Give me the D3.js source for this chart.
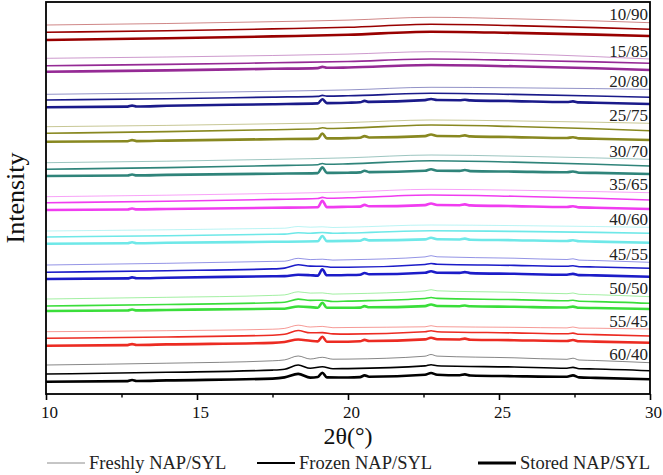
<!DOCTYPE html>
<html><head><meta charset="utf-8">
<script src="https://cdn.jsdelivr.net/npm/d3@7"></script>
<style>body{margin:0;background:#fff} svg{display:block}</style>
</head><body>
<svg id="c" width="663" height="475"></svg>
<script>
// ---- DATA: [2θ (°), intensity (a.u., stacked)] ----
const groupLabels = ["10/90","15/85","20/80","25/75","30/70","35/65","40/60","45/55","50/50","55/45","60/40"];
const xTicks = [10,15,20,25,30];
const xMinorTicks = [12.5,17.5,22.5,27.5];
const legendLabels = ["Freshly NAP/SYL","Frozen NAP/SYL","Stored NAP/SYL"];

const fresh_10_90 = [[10,369],[14,370.5],[17.5,372.3],[20,373.9],[22.75,376.7],[25.5,375.2],[28.2,373.1],[30,371.3]];
const frozen_10_90 = [[10,361.7],[14,363.3],[17.5,365.1],[20,366.7],[22.75,369.7],[25.5,368.4],[28.2,366.4],[30,364.7]];
const stored_10_90 = [[10,354],[14,355.7],[17.5,357.6],[20,359.2],[22.75,362.3],[25.5,361.1],[28.2,359.4],[30,358]];

const fresh_15_85 = [[10,335.7],[14,337],[17.5,338.5],[20,339.9],[22.75,342.3],[25.5,340.3],[28.2,337.4],[30,335]];
const frozen_15_85 = [[10,328.3],[14,329.6],[17.5,331.2],[20,332.5],[22.75,335],[25.5,333.8],[28.2,332.1],[30,330.7]];
const stored_15_85 = [[10,322.3],[14,323.6],[17.5,325.2],[19,325.9],[19.15,327.1],[19.3,326.2],[20,326.5],[22.75,329],[25.5,327.7],[28.2,325.7],[30,324]];

const fresh_20_80 = [[10,299.7],[14,301.1],[17.5,302.7],[20,304.1],[22.75,306.7],[25.5,306.2],[28.2,305.4],[30,304.7]];
const frozen_20_80 = [[10,294],[14,295.3],[17.5,296.9],[19,297.6],[19.15,298.6],[19.3,297.9],[20,298.2],[22.75,300.7],[25.5,299.6],[28.2,298],[30,296.7]];
const stored_20_80 = [[10,286.7],[12.7,287.4],[12.85,288.4],[13,287.5],[14,288.2],[17.5,289.8],[19,290.6],[19.15,294.8],[19.3,290.9],[20,291.3],[20.4,291.7],[20.55,293.1],[20.7,292.1],[22.55,293.9],[22.75,295],[22.95,294],[23.7,293.8],[23.87,294.2],[24.05,293.6],[25.5,292.9],[27.25,292],[27.45,292.6],[27.65,291.6],[28.2,291.3],[30,290]];

const fresh_25_75 = [[10,267.3],[14,268.6],[17.5,270.2],[20,271.5],[22.75,274],[25.5,273.1],[28.2,271.8],[30,270.7]];
const frozen_25_75 = [[10,260.7],[14,262.4],[17.5,264.3],[19,265.2],[19.15,266.3],[19.3,265.5],[20,265.9],[22.75,269],[25.5,267.5],[28.2,265.2],[30,263.3]];
const stored_25_75 = [[10,252.3],[12.7,252.8],[12.85,253.9],[13,252.9],[14,253.4],[17.5,254.8],[19,255.4],[19.15,260.5],[19.3,255.6],[20,255.9],[20.4,256.2],[20.55,257.9],[20.7,256.5],[22.55,257.9],[22.75,259.5],[22.95,258],[23.7,257.8],[23.87,258.6],[24.05,257.6],[25.5,256.9],[27.25,256],[27.45,256.8],[27.65,255.6],[28.2,255.3],[30,254]];

const fresh_30_70 = [[10,231.3],[14,232.8],[17.5,234.6],[20,236.2],[22.75,239],[25.5,237.8],[28.2,236.1],[30,234.7]];
const frozen_30_70 = [[10,224.7],[14,226.4],[17.5,228.4],[19,229.3],[19.15,230.5],[19.3,229.7],[20,230.1],[22.75,233.3],[25.5,231.9],[28.2,229.7],[30,228]];
const stored_30_70 = [[10,218],[12.7,218.5],[12.85,219.5],[13,218.6],[14,219.1],[17.5,220.3],[19,220.9],[19.15,226.7],[19.3,221.1],[20,221.3],[20.4,221.6],[20.55,223.3],[20.7,221.9],[22.55,223.2],[22.75,224.8],[22.95,223.3],[23.7,223.1],[23.87,224],[24.05,222.9],[25.5,222.4],[27.25,221.7],[27.45,222.5],[27.65,221.3],[28.2,221.1],[30,220]];

const fresh_35_65 = [[10,197.3],[14,198.8],[17.5,200.5],[20,202],[22.75,204.7],[25.5,203.8],[28.2,202.4],[30,201.3]];
const frozen_35_65 = [[10,191.3],[14,192.8],[17.5,194.6],[19,195.5],[19.15,196.6],[19.3,195.8],[20,196.2],[22.75,199],[25.5,197.7],[28.2,195.7],[30,194]];
const stored_35_65 = [[10,184],[12.7,184.5],[12.85,185.5],[13,184.6],[14,185],[17.5,186.2],[19,186.7],[19.15,193.3],[19.3,186.9],[20,187.2],[20.4,187.4],[20.55,189.1],[20.7,187.7],[22.55,188.9],[22.75,190.5],[22.95,189],[23.7,188.8],[23.87,189.6],[24.05,188.6],[25.5,187.9],[27.25,187],[27.45,187.8],[27.65,186.6],[28.2,186.3],[30,185]];

const fresh_40_60 = [[10,163],[14,164.2],[17.5,165.6],[17.9,165.8],[18.35,167.5],[18.75,166.8],[19.15,167.2],[19.5,166.5],[20,166.8],[22.75,169],[25.5,168.4],[28.2,167.5],[30,166.7]];
const frozen_40_60 = [[10,157],[14,158.3],[17.5,159.7],[17.9,159.9],[18.35,161.2],[18.75,160.8],[19.15,161.5],[19.5,160.7],[20,161],[22.75,163.3],[25.5,162.6],[28.2,161.6],[30,160.7]];
const stored_40_60 = [[10,150.3],[12.7,150.7],[12.85,151.7],[13,150.8],[14,151.2],[17.5,152.2],[19,152.7],[19.15,158],[19.3,152.9],[20,153.1],[20.4,153.3],[20.55,154.9],[20.7,153.6],[22.55,154.6],[22.75,156.2],[22.95,154.7],[23.7,154.5],[23.87,155.4],[24.05,154.3],[25.5,153.8],[27.25,153],[27.45,153.8],[27.65,152.7],[28.2,152.4],[30,151.3]];

const fresh_45_55 = [[10,129],[14,130.7],[17.5,132.6],[17.9,132.8],[18.35,135.7],[18.75,134.4],[19.15,134.8],[19.5,133.9],[20,134.2],[22.55,137.1],[22.75,138.3],[22.95,137.2],[25.5,135.8],[27.25,134.5],[27.45,135.2],[27.65,133.9],[28.2,133.5],[30,131.7]];
const frozen_45_55 = [[10,121.7],[14,123.3],[17.5,125.1],[17.9,125.9],[18.35,129.2],[18.75,127.9],[19.15,127.7],[19.5,126.7],[20,126.7],[22.55,129.5],[22.75,130.5],[22.95,129.7],[25.5,128.6],[27.25,127.7],[27.45,128.3],[27.65,127.3],[28.2,127],[30,125.7]];
const stored_45_55 = [[10,115],[12.7,115.6],[12.85,116.6],[13,115.7],[14,116.3],[17.5,117.7],[17.9,117.9],[18.35,119.2],[18.75,118.8],[19,118.4],[19.15,124.7],[19.3,118.7],[20,119],[20.4,119.3],[20.55,121],[20.7,119.7],[22.55,121.2],[22.75,122.8],[22.95,121.3],[23.7,121.1],[23.87,121.9],[24.05,120.9],[25.5,120.2],[27.25,119.3],[27.45,120.1],[27.65,118.9],[28.2,118.6],[30,117.3]];

const fresh_50_50 = [[10,95],[14,96.7],[17.5,98.6],[17.9,99.1],[18.35,102.2],[18.75,100.9],[19.15,101.1],[19.5,99.9],[20,100.2],[22.55,103.1],[22.75,104.3],[22.95,103.2],[25.5,101.7],[27.25,100.3],[27.45,101],[27.65,99.7],[28.2,99.3],[30,97.3]];
const frozen_50_50 = [[10,88],[14,89.5],[17.5,91.3],[17.9,91.8],[18.35,94.9],[18.75,93.6],[19.15,93.8],[19.5,92.5],[20,92.9],[22.55,95.5],[22.75,96.5],[22.95,95.6],[25.5,94.4],[27.25,93.2],[27.45,93.7],[27.65,92.7],[28.2,92.4],[30,90.7]];
const stored_50_50 = [[10,83],[12.7,83.5],[12.85,84.5],[13,83.6],[14,84],[17.5,85.2],[17.9,85.3],[18.35,87.5],[18.75,86.9],[19,86.2],[19.15,91.3],[19.3,86.2],[20,86.2],[20.4,86.4],[20.55,87.9],[20.7,86.7],[22.55,87.9],[22.75,89.5],[22.95,88],[23.7,87.8],[23.87,88.5],[24.05,87.7],[25.5,87.2],[27.25,86.5],[27.45,87.4],[27.65,86.2],[28.2,86],[30,85]];

const fresh_55_45 = [[10,62.3],[14,63.3],[17.5,64.8],[17.9,65.6],[18.35,68.8],[18.75,67],[19.15,67.6],[19.5,66.3],[20,66.5],[22.55,67.2],[22.75,68.3],[22.95,67.3],[25.5,66.7],[27.25,66.1],[27.45,67],[27.65,65.9],[28.2,65.8],[30,65]];
const frozen_55_45 = [[10,55.7],[14,57],[17.5,58.8],[17.9,59.7],[18.35,63.5],[18.75,61.2],[19.15,61.4],[19.5,60.1],[20,59.9],[22.55,62.2],[22.75,63.3],[22.95,62.3],[25.5,61.1],[27.25,60.2],[27.45,60.9],[27.65,59.7],[28.2,59.4],[30,58]];
const stored_55_45 = [[10,48.3],[12.7,48.9],[12.85,49.9],[13,49],[14,49.6],[17.5,51.1],[17.9,52],[18.35,54.5],[18.75,53.2],[19,52.6],[19.15,57.3],[19.3,52.3],[20,52.3],[20.4,52.7],[20.55,54.1],[20.7,53],[22.55,54.6],[22.75,56.2],[22.95,54.7],[23.7,54.5],[23.87,55.4],[24.05,54.3],[25.5,53.8],[27.25,53],[27.45,54],[27.65,52.7],[28.2,52.4],[30,51.3]];

const fresh_60_40 = [[10,29],[14,30.8],[17.5,33.2],[17.9,34.1],[18.35,38],[18.75,35],[19.15,36.7],[19.5,34.8],[20,34.9],[22.55,37.8],[22.75,39.5],[22.95,37.9],[25.5,36.2],[27.25,34.7],[27.45,35.8],[27.65,34],[28.2,33.5],[30,31.3]];
const frozen_60_40 = [[10,20],[14,21.7],[17.5,23.9],[17.9,24.8],[18.35,29],[18.75,25.7],[19.15,27.3],[19.5,25.3],[20,25.4],[22.55,28.1],[22.75,29.3],[22.95,28.3],[25.5,27],[27.25,25.8],[27.45,26.6],[27.65,25.3],[28.2,25],[30,23.3]];
const stored_60_40 = [[10,12.3],[12.7,12.9],[12.85,14],[13,13],[14,13.6],[17.5,15.4],[17.9,16.6],[18.35,20.1],[18.75,16.4],[19,17],[19.15,21.3],[19.3,16.6],[20,16.5],[20.4,16.9],[20.55,18.6],[20.7,17.3],[22.55,19.2],[22.75,21],[22.95,19.3],[23.7,18.7],[23.87,19.6],[24.05,18.5],[25.5,17.8],[27.25,17.2],[27.45,18.6],[27.65,16.6],[28.2,16.1],[30,14.7]];

const freshSeries  = [fresh_10_90,fresh_15_85,fresh_20_80,fresh_25_75,fresh_30_70,fresh_35_65,fresh_40_60,fresh_45_55,fresh_50_50,fresh_55_45,fresh_60_40];
const frozenSeries = [frozen_10_90,frozen_15_85,frozen_20_80,frozen_25_75,frozen_30_70,frozen_35_65,frozen_40_60,frozen_45_55,frozen_50_50,frozen_55_45,frozen_60_40];
const storedSeries = [stored_10_90,stored_15_85,stored_20_80,stored_25_75,stored_30_70,stored_35_65,stored_40_60,stored_45_55,stored_50_50,stored_55_45,stored_60_40];

// ---- STYLE ----
const groupColors = ["#990000","#952a95","#1a1a8a","#888820","#2f847a","#f03cf0","#6ee8e8","#1c1cc8","#3ade3a","#ec2b22","#000000"];
const FONT = "'Liberation Serif','Times New Roman',serif";

const svg = d3.select("#c");
const P = {left:46, right:650, top:2, bottom:394};
const x = d3.scaleLinear().domain([10,30]).range([P.left,P.right]);
const y = d3.scaleLinear().domain([0,392]).range([P.bottom,P.top]);

svg.append("defs").append("clipPath").attr("id","clip")
  .append("rect").attr("x",P.left).attr("y",P.top).attr("width",P.right-P.left).attr("height",P.bottom-P.top);

const line = d3.line().x(d=>x(d[0])).y(d=>y(d[1])).curve(d3.curveMonotoneX);
const gL = svg.append("g").attr("clip-path","url(#clip)");

groupLabels.forEach((lab,i)=>{
  const c = groupColors[i];
  gL.append("path").attr("d",line(freshSeries[i])).attr("fill","none").attr("stroke",c)
    .attr("stroke-width",0.8).attr("stroke-opacity",0.6);
  gL.append("path").attr("d",line(frozenSeries[i])).attr("fill","none").attr("stroke",c)
    .attr("stroke-width",1.6);
  gL.append("path").attr("d",line(storedSeries[i])).attr("fill","none").attr("stroke",c)
    .attr("stroke-width",2.6).attr("stroke-linejoin","round");
  const last = freshSeries[i][freshSeries[i].length-1];
  svg.append("text").attr("x",x(30)-2).attr("y",y(last[1])-2.5)
    .attr("text-anchor","end").attr("font-family",FONT).attr("font-size",17).attr("fill","#222")
    .text(lab);
});

// frame
svg.append("rect").attr("x",P.left).attr("y",P.top).attr("width",P.right-P.left).attr("height",P.bottom-P.top)
  .attr("fill","none").attr("stroke","#000").attr("stroke-width",1.8);

// x axis
const ax = svg.append("g").attr("transform",`translate(0,${P.bottom})`)
  .call(d3.axisBottom(x).tickValues(xTicks).tickSize(6).tickSizeOuter(0).tickPadding(6).tickFormat(d3.format("d")));
ax.select(".domain").remove();
ax.selectAll(".tick line").attr("stroke-width",1.6);
ax.selectAll(".tick text").attr("font-family",FONT).attr("font-size",17).attr("fill","#111").attr("dx",3);
const axm = svg.append("g").attr("transform",`translate(0,${P.bottom})`)
  .call(d3.axisBottom(x).tickValues(xMinorTicks).tickSize(3.5).tickSizeOuter(0).tickFormat(""));
axm.select(".domain").remove();
axm.selectAll(".tick line").attr("stroke-width",1.4);

// titles
svg.append("text").attr("x",(P.left+P.right)/2).attr("y",444).attr("text-anchor","middle")
  .attr("font-family",FONT).attr("font-size",24).attr("fill","#111").text("2θ(°)");
svg.append("text").attr("transform",`translate(24,${(P.top+P.bottom)/2}) rotate(-90)`).attr("text-anchor","middle")
  .attr("font-family",FONT).attr("font-size",26).attr("fill","#111").text("Intensity");

// legend
const legX = [47,257,478];
const legStroke = [{c:"#8c8c8c",w:1},{c:"#000",w:2},{c:"#000",w:3}];
legendLabels.forEach((t,i)=>{
  svg.append("line").attr("x1",legX[i]).attr("x2",legX[i]+38).attr("y1",463).attr("y2",463)
    .attr("stroke",legStroke[i].c).attr("stroke-width",legStroke[i].w);
  svg.append("text").attr("x",legX[i]+42).attr("y",468.5).attr("font-family",FONT).attr("font-size",18.5)
    .attr("fill","#222").text(t);
});
</script>
</body></html>
